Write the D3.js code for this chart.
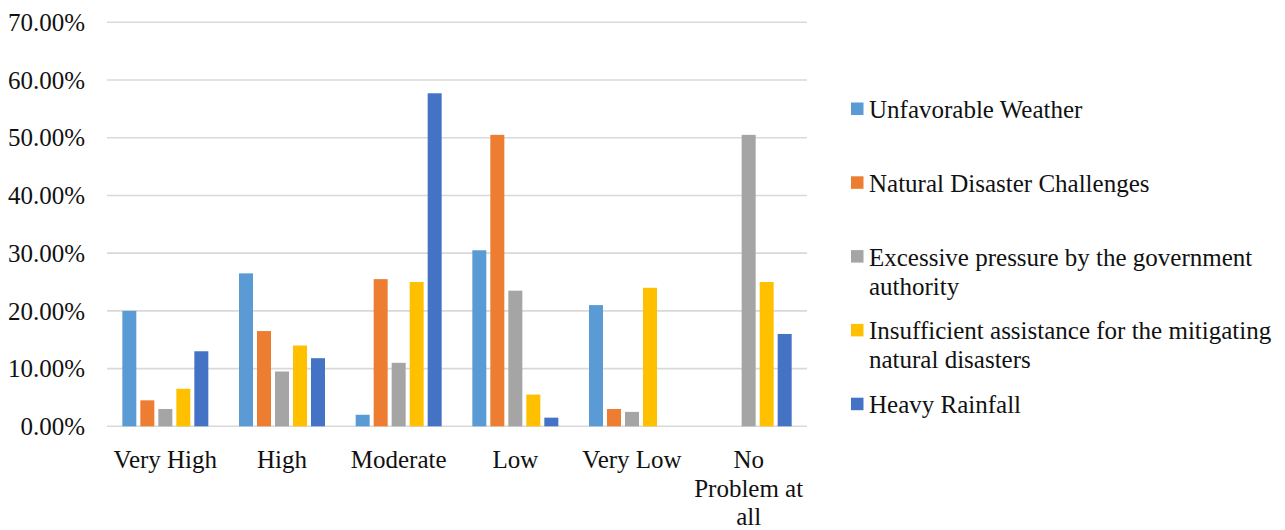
<!DOCTYPE html>
<html>
<head>
<meta charset="utf-8">
<script src="https://cdn.jsdelivr.net/npm/d3@7"></script>
<style>
  html, body { margin: 0; padding: 0; background: #fff; }
  svg { display: block; }
  text { font-family: "Liberation Serif", "Times New Roman", serif; fill: #111; }
</style>
</head>
<body>
<svg id="chart" width="1285" height="530"></svg>
<script>
// Problem severity levels (x categories)
const categories = ["Very High", "High", "Moderate", "Low", "Very Low", "No Problem at all"];

// Series names (legend order) and colours
const seriesNames = [
  "Unfavorable Weather",
  "Natural Disaster Challenges",
  "Excessive pressure by the government authority",
  "Insufficient assistance for the mitigating natural disasters",
  "Heavy Rainfall"
];
const seriesColors = ["#5B9BD5", "#ED7D31", "#A5A5A5", "#FFC000", "#4472C4"];

// Share of respondents (%) per series, one value per category
const unfavorableWeather   = [20.0, 26.5, 2.0, 30.5, 21.0, 0];
const naturalDisaster      = [4.5, 16.5, 25.5, 50.5, 3.0, 0];
const excessivePressure    = [3.0, 9.5, 11.0, 23.5, 2.5, 50.5];
const insufficientAssist   = [6.5, 14.0, 25.0, 5.5, 24.0, 25.0];
const heavyRainfall        = [13.0, 11.8, 57.7, 1.5, 0, 16.0];

// Y axis ticks
const yTicks = [0, 10, 20, 30, 40, 50, 60, 70];

const seriesValues = [unfavorableWeather, naturalDisaster, excessivePressure, insufficientAssist, heavyRainfall];

const FONT = 25;
const svg = d3.select("#chart");
const plot = { left: 107, right: 807, top: 22.3, bottom: 426.3 };

const x = d3.scaleBand().domain(categories).range([plot.left, plot.right]).padding(0);
const groupW = 86;
const xs = d3.scaleBand().domain(d3.range(seriesNames.length))
  .range([-groupW / 2, groupW / 2]).paddingInner(4 / 18).paddingOuter(0);
const y = d3.scaleLinear().domain([0, 70]).range([plot.bottom, plot.top]);

// Gridlines
svg.append("g").selectAll("line").data(yTicks).join("line")
  .attr("x1", plot.left).attr("x2", plot.right)
  .attr("y1", d => y(d)).attr("y2", d => y(d))
  .attr("stroke", "#D9D9D9").attr("stroke-width", 1.6);

// Y axis labels
const yAxis = d3.axisLeft(y).tickValues(yTicks).tickSize(0).tickPadding(0)
  .tickFormat(d => d.toFixed(2) + "%");
const yg = svg.append("g").attr("transform", `translate(${plot.left - 22},0)`).call(yAxis);
yg.attr("font-family", null).attr("font-size", null);
yg.select(".domain").remove();
yg.selectAll("text").attr("font-size", FONT).attr("fill", "#111").attr("dy", "0.33em");

// Bars
const rows = [];
seriesValues.forEach((vals, si) => vals.forEach((v, ci) => rows.push({ si, ci, v })));
svg.append("g").selectAll("rect").data(rows.filter(d => d.v > 0)).join("rect")
  .attr("x", d => x(categories[d.ci]) + x.bandwidth() / 2 + xs(d.si))
  .attr("width", xs.bandwidth())
  .attr("y", d => y(d.v))
  .attr("height", d => y(0) - y(d.v))
  .attr("fill", d => seriesColors[d.si]);

// Word wrap helper for SVG text
function wrap(sel, width, lineH) {
  sel.each(function () {
    const t = d3.select(this);
    const words = t.text().split(/\s+/);
    const x0 = t.attr("x");
    t.text(null);
    let line = [];
    let ts = t.append("tspan").attr("x", x0).attr("dy", 0);
    for (const w of words) {
      line.push(w);
      ts.text(line.join(" "));
      if (ts.node().getComputedTextLength() > width && line.length > 1) {
        line.pop();
        ts.text(line.join(" "));
        line = [w];
        ts = t.append("tspan").attr("x", x0).attr("dy", lineH).text(w);
      }
    }
  });
}

// X category labels
svg.append("g").selectAll("text").data(categories).join("text")
  .attr("x", d => x(d) + x.bandwidth() / 2)
  .attr("y", 468)
  .attr("text-anchor", "middle")
  .attr("font-size", FONT)
  .text(d => d)
  .call(wrap, 115, 28.5);

// Legend
const legend = svg.append("g");
const legendTop = 110;
const legendStep = 73.8;
seriesNames.forEach((name, i) => {
  const cy = legendTop + i * legendStep;
  legend.append("rect")
    .attr("x", 851).attr("y", cy - 7.5).attr("width", 12.5).attr("height", 12.5)
    .attr("fill", seriesColors[i]);
  legend.append("text")
    .attr("x", 869).attr("y", cy + 8)
    .attr("font-size", FONT)
    .text(name)
    .call(wrap, 420, 29);
});
</script>
</body>
</html>
